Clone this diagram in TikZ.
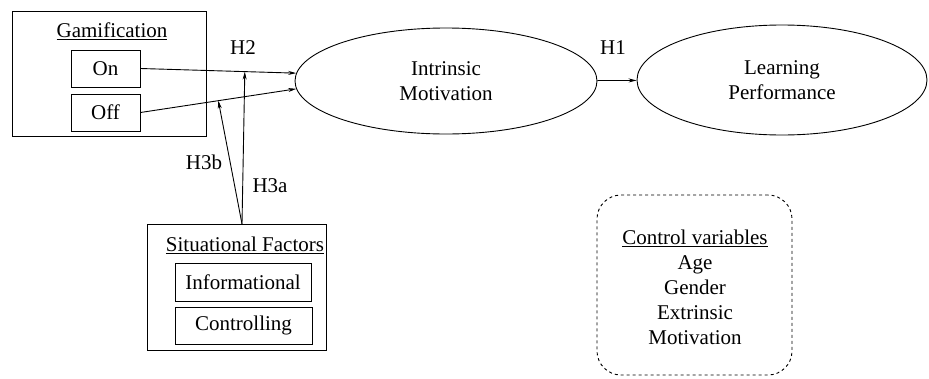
\documentclass[tikz,border=0pt]{standalone}
\usepackage{fontspec}
\setmainfont{Liberation Serif}
\usetikzlibrary{shapes.geometric,arrows.meta}
\begin{document}
\begin{tikzpicture}[x=1pt,y=-1pt,
  font=\fontsize{21}{25}\selectfont,
  frame/.style={draw, line width=0.9pt, inner sep=0pt},
  item/.style={draw, line width=0.9pt, inner sep=0pt, minimum width=69, minimum height=37},
  construct/.style={draw, ellipse, line width=0.9pt, align=center, inner sep=0pt},
  path/.style={-{Stealth[length=8pt,width=4pt]}, line width=0.9pt},
  hyp/.style={inner sep=1pt}]
\useasboundingbox (0,0) rectangle (929,378);
\node[frame, minimum width=194, minimum height=125] (gam) at (109,73.5){};
\node (gamtitle) at (112,31){\underline{Gamification}};
\node[item] (on) at (105.5,68.5){On};
\node[item] (off) at (105.5,112.5){Off};
\node[construct, minimum width=302, minimum height=106] (im) at (446,81){Intrinsic\\Motivation};
\node[construct, minimum width=290, minimum height=110] (lp) at (782,80){Learning\\Performance};
\draw[path] (on.east) -- coordinate[pos=0.67] (onmid) (im.177);
\draw[path] (off.east) -- coordinate[pos=0.5] (offmid) (im.183);
\draw[path] (im) -- (lp);
\node[frame, minimum width=179, minimum height=126] (sit) at (236.5,287){};
\node (sittitle) at (245,245){\underline{Situational Factors}};
\node[item, minimum width=136, minimum height=38] (inf) at (243,282){Informational};
\node[item, minimum width=137, minimum height=37] (ctl) at (243.5,325.5){Controlling};
\coordinate (sitbase) at (242,224);
\draw[path] (sitbase) -- (onmid);
\draw[path] (sitbase) -- (offmid);
\node[hyp] (h2) at (243,48){H2};
\node[hyp] (h1) at (613,48){H1};
\node[hyp] (h3b) at (204,162){H3b};
\node[hyp] (h3a) at (270,186){H3a};
\node[draw, dashed, rounded corners=24pt, line width=0.9pt, minimum width=195, minimum height=180] (ctrl) at (694.5,285){};
\node[align=center, inner sep=0pt] (ctrltext) at (695,287){\underline{Control variables}\\Age\\Gender\\Extrinsic\\Motivation};
\end{tikzpicture}
\end{document}
